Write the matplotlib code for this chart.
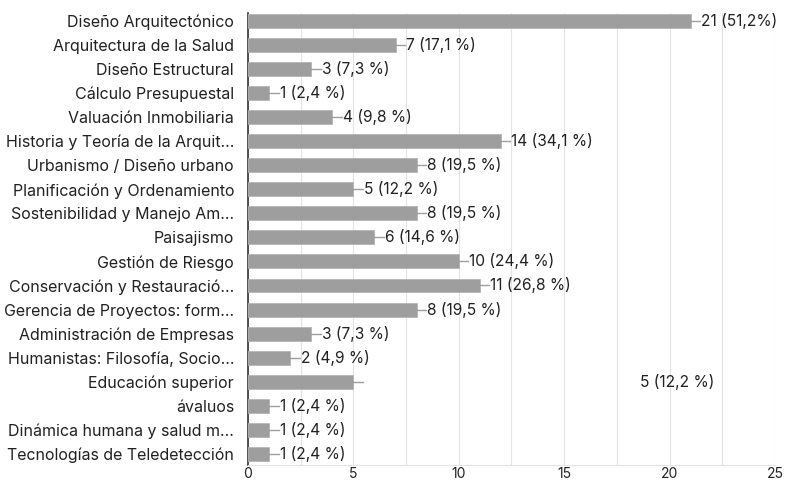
import matplotlib.pyplot as plt
from matplotlib.ticker import MultipleLocator

plt.rcParams['font.family'] = ['Inter', 'DejaVu Sans']

categories = [
    "Diseño Arquitectónico", "Arquitectura de la Salud", "Diseño Estructural",
    "Cálculo Presupuestal", "Valuación Inmobiliaria", "Historia y Teoría de la Arquit...",
    "Urbanismo / Diseño urbano", "Planificación y Ordenamiento", "Sostenibilidad y Manejo Am...",
    "Paisajismo", "Gestión de Riesgo", "Conservación y Restauració...",
    "Gerencia de Proyectos: form...", "Administración de Empresas", "Humanistas: Filosofía, Socio...",
    "Educación superior", "ávaluos", "Dinámica humana y salud m...", "Tecnologías de Teledetección",
]
# bar lengths as drawn in the picture (the "Historia" bar is drawn at 12 though labelled 14)
bar_values = [21, 7, 3, 1, 4, 12, 8, 5, 8, 6, 10, 11, 8, 3, 2, 5, 1, 1, 1]
value_labels = [
    "21 (51,2%)", "7 (17,1 %)", "3 (7,3 %)", "1 (2,4 %)", "4 (9,8 %)", "14 (34,1 %)",
    "8 (19,5 %)", "5 (12,2 %)", "8 (19,5 %)", "6 (14,6 %)", "10 (24,4 %)", "11 (26,8 %)",
    "8 (19,5 %)", "3 (7,3 %)", "2 (4,9 %)", "5 (12,2 %)", "1 (2,4 %)", "1 (2,4 %)", "1 (2,4 %)",
]
# the "Educación superior" label sits far to the right in the original
label_x_override = {15: 18.6}

fig = plt.figure(figsize=(7.86, 4.82), dpi=100)
ax = fig.add_axes([0.3155, 0.036, 0.6705, 0.937])

ypos = list(range(len(categories)))
ax.barh(ypos, bar_values, height=0.58, color="#9e9e9e", edgecolor="#b5b5b5", linewidth=0.6, zorder=3)

lead = 0.45
for i, (c, lab) in enumerate(zip(bar_values, value_labels)):
    ax.plot([c, c + lead], [i, i], color="#9e9e9e", lw=1, zorder=3)
    x = label_x_override.get(i, c + lead + 0.05)
    ax.text(x, i, lab, va="center", ha="left", fontsize=11.2, color="#212121")

ax.set_xlim(0, 25)
ax.set_ylim(18.45, -0.33)
ax.set_yticks(ypos)
ax.set_yticklabels(categories, fontsize=11.5, color="#212121")
ax.xaxis.set_major_locator(MultipleLocator(5))
ax.xaxis.set_minor_locator(MultipleLocator(2.5))
ax.tick_params(axis="x", which="both", length=0, labelsize=10, colors="#212121", pad=2)
ax.tick_params(axis="y", length=0, pad=10)
ax.grid(axis="x", which="both", color="#e3e3e3", lw=0.8, zorder=0)

for s in ["top", "right"]:
    ax.spines[s].set_visible(False)
ax.spines["bottom"].set_color("#e3e3e3")
ax.spines["left"].set_color("#333333")
ax.spines["left"].set_linewidth(1.2)

fig.savefig("out.png", dpi=100)
